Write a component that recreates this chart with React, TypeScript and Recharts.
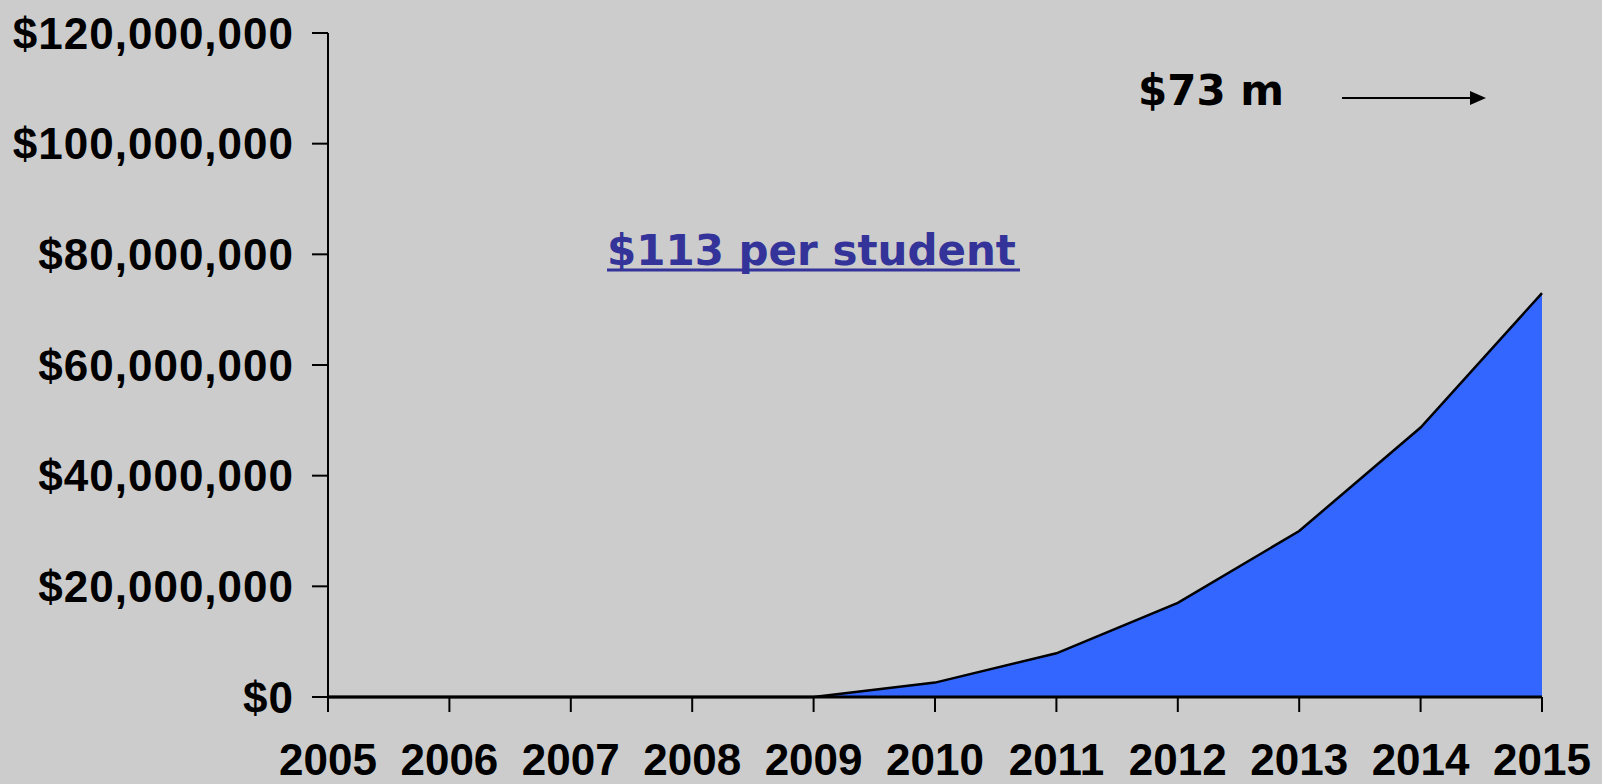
import React from 'react';
import { AreaChart, Area, XAxis, YAxis } from 'recharts';

const years = [2005, 2006, 2007, 2008, 2009, 2010, 2011, 2012, 2013, 2014, 2015];
const spending = [0, 0, 0, 0, 0, 2600000, 7900000, 17000000, 30000000, 48700000, 73000000];
const yTicks = [0, 20000000, 40000000, 60000000, 80000000, 100000000, 120000000];

const data = years.map((year, i) => ({ year, value: spending[i] }));

const W = 1602;
const H = 784;

const axisFont = {
    fill: '#000000',
    fontFamily: '"Liberation Sans", Arial, sans-serif',
    fontWeight: 700,
    fontSize: 44,
};

const formatMoney = (v: number) => '$' + v.toLocaleString('en-US');

const App: React.FC = () => {
    return (
        <div style={{ position: 'fixed', left: 0, top: 0, width: W, height: H, background: '#cccccc' }}>
            <AreaChart width={W} height={H} data={data} margin={{ top: 33, right: 60, bottom: 0, left: 0 }}>
                <XAxis
                    dataKey="year"
                    type="number"
                    domain={[2005, 2015]}
                    ticks={years}
                    height={87}
                    tickSize={15}
                    tickMargin={32}
                    stroke="#000000"
                    strokeWidth={3}
                    tick={axisFont}
                    tickLine={{ stroke: '#000000', strokeWidth: 2 }}
                />
                <YAxis
                    type="number"
                    domain={[0, 120000000]}
                    ticks={yTicks}
                    width={328}
                    tickSize={16}
                    tickMargin={18}
                    stroke="#000000"
                    strokeWidth={2}
                    tickFormatter={formatMoney}
                    tick={{ ...axisFont, letterSpacing: 1 }}
                    tickLine={{ stroke: '#000000', strokeWidth: 2 }}
                />
                <Area
                    type="linear"
                    dataKey="value"
                    stroke="#000000"
                    strokeWidth={2.5}
                    fill="#3366ff"
                    fillOpacity={1}
                    isAnimationActive={false}
                    dot={false}
                    activeDot={false}
                />
            </AreaChart>
            {/* annotations over the plot */}
            <svg width={W} height={H} style={{ position: 'absolute', left: 0, top: 0, pointerEvents: 'none' }}>
                <text
                    x={607}
                    y={265}
                    fill="#333399"
                    fontFamily='"DejaVu Sans", Verdana, sans-serif'
                    fontWeight={700}
                    fontSize={42}
                >
                    $113 per student
                </text>
                <line x1={607} x2={1020} y1={270} y2={270} stroke="#333399" strokeWidth={3} />
                <text
                    x={1138}
                    y={105}
                    fill="#000000"
                    fontFamily='"DejaVu Sans", Verdana, sans-serif'
                    fontWeight={700}
                    fontSize={42}
                >
                    $73 m
                </text>
                <line x1={1342} x2={1472} y1={98} y2={98} stroke="#000000" strokeWidth={2} />
                <polygon points="1470,91 1486,98 1470,105" fill="#000000" />
            </svg>
        </div>
    );
};

export default App;
